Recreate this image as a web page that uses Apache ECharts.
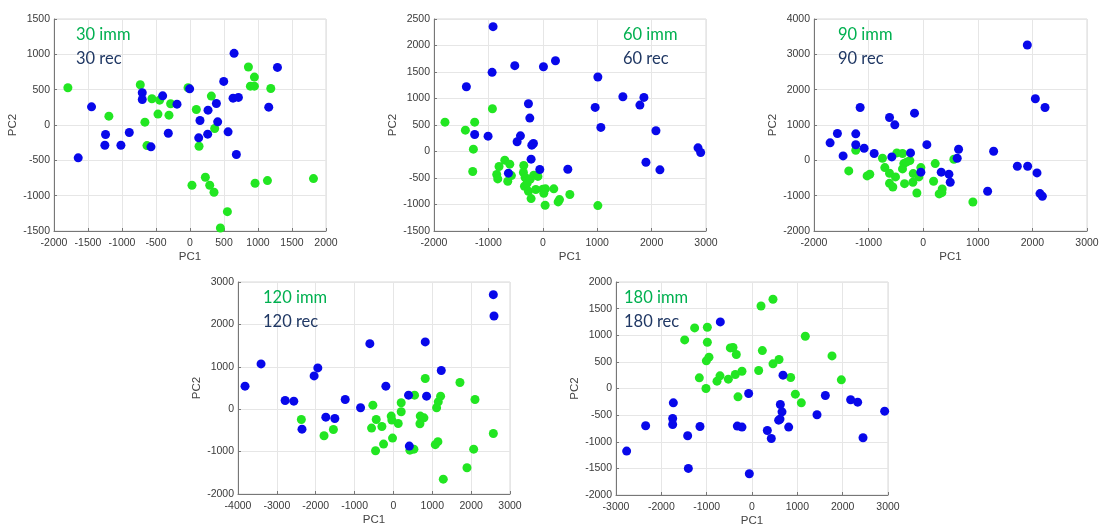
<!DOCTYPE html>
<html><head><meta charset="utf-8">
<script src="https://cdn.jsdelivr.net/npm/echarts@6/dist/echarts.min.js"></script>
<style>html,body{margin:0;padding:0;background:#fff}#c{width:1099px;height:524px}</style>
</head><body><div id="c"></div>
<script>
// ---- data (PC1, PC2) ----
const imm30 = [[-1796,527],[-1193,125],[-731,569],[-560,371],[-447,352],[-471,154],[-663,40],[-633,-291],[-285,300],[-309,139],[-29,527],[93,220],[314,409],[363,-50],[133,-300],[29,-853],[226,-740],[290,-853],[353,-952],[550,-1226],[447,-1458],[859,820],[947,678],[888,550],[947,550],[1188,517],[957,-825],[1139,-787],[1816,-758]];
const rec30 = [[-1644,-465],[-1448,257],[-1242,-135],[-1252,-286],[-1016,-286],[-893,-106],[-702,456],[-702,361],[-574,-309],[-402,413],[-319,-116],[-191,295],[-5,512],[147,64],[128,-182],[265,210],[260,-130],[388,305],[407,45],[560,-97],[496,617],[648,1014],[633,380],[712,390],[682,-418],[1158,252],[1286,815]];

const imm60 = [[-1798,554],[-1423,403],[-1252,554],[-926,806],[-1276,44],[-1288,-378],[-804,-283],[-699,-164],[-607,-239],[-847,-435],[-828,-517],[-577,-454],[-644,-561],[-350,-265],[-356,-397],[-325,-491],[-337,-655],[-288,-598],[-264,-750],[-215,-888],[-166,-447],[-90,-470],[-129,-718],[-230,-520],[0,-710],[49,-705],[18,-787],[43,-1014],[202,-705],[282,-951],[307,-907],[497,-812],[1012,-1020]];
const rec60 = [[-914,2356],[-932,1493],[-515,1619],[12,1600],[233,1713],[1012,1405],[-1405,1222],[1472,1033],[1859,1020],[1785,876],[963,832],[-264,901],[-239,630],[1067,454],[2080,391],[-1252,321],[-1006,290],[-411,296],[-472,183],[-172,151],[-202,120],[-215,-145],[-55,-340],[460,-334],[-632,-409],[1896,-202],[2153,-346],[2853,69],[2902,-19]];

const imm90 = [[-1235,286],[-1363,-300],[-1027,-441],[-978,-394],[-746,60],[-703,-205],[-617,-365],[-507,-469],[-617,-652],[-556,-756],[-483,210],[-379,192],[-355,-92],[-379,-243],[-342,-660],[-299,-45],[-244,-7],[-183,-376],[-189,-621],[-116,-924],[-79,-469],[-43,-205],[220,-92],[190,-593],[348,-810],[342,-914],[293,-951],[562,31],[910,-1179]];
const rec90 = [[1907,3263],[2054,1743],[2231,1495],[-1155,1495],[-159,1336],[-617,1213],[-520,1005],[-1571,759],[-1705,495],[-1235,750],[-1235,440],[-1082,343],[-1467,126],[-898,192],[-575,97],[-232,210],[67,444],[648,315],[623,60],[1290,258],[-43,-335],[330,-335],[471,-392],[495,-619],[1180,-874],[1724,-166],[1913,-166],[2084,-355],[2139,-941],[2182,-1017]];

const imm120 = [[-2370,-242],[-1786,-627],[-1545,-478],[-529,96],[-443,-242],[-563,-446],[-297,-407],[-460,-980],[-254,-823],[-57,-163],[-40,-257],[-23,-681],[123,-336],[200,151],[200,-61],[544,331],[424,-966],[527,-943],[819,724],[690,-163],[785,-203],[682,-344],[1214,308],[1154,174],[1111,33],[1077,-837],[1145,-766],[1283,-1650],[1712,630],[2099,229],[2571,-572],[2065,-943],[1893,-1382]];
const rec120 = [[2571,2702],[2588,2199],[-607,1546],[819,1587],[1231,912],[-3407,1068],[-1946,974],[-2041,785],[-3819,543],[-195,543],[-2787,205],[-2564,190],[-1241,228],[-846,33],[389,331],[853,308],[-1740,-187],[-1508,-219],[-2353,-470],[409,-870]];

const imm180 = [[463,1675],[199,1550],[-1265,1138],[-985,1150],[-1485,912],[-985,869],[1176,981],[-478,762],[-419,769],[-346,638],[228,712],[-949,588],[-1007,519],[463,463],[596,544],[1765,612],[-1162,200],[-706,238],[-772,138],[-522,175],[-368,263],[-221,325],[147,337],[853,206],[1971,163],[-1015,0],[-309,-156],[956,-106],[1088,-269]];
const rec180 = [[-699,1250],[684,250],[-74,-94],[625,-300],[662,-438],[618,-575],[588,-594],[1618,-131],[2176,-212],[2331,-256],[2926,-425],[1434,-494],[809,-725],[338,-788],[426,-938],[2449,-925],[-324,-706],[-221,-725],[-1735,-269],[-1750,-563],[-1750,-675],[-1147,-713],[-2346,-700],[-1419,-888],[-2765,-1175],[-1404,-1500],[-59,-1600]];

const immLabels = ['30 imm','60 imm','90 imm','120 imm','180 imm'];
const recLabels = ['30 rec','60 rec','90 rec','120 rec','180 rec'];
const xRanges = [[-2000,2000,500],[-2000,3000,1000],[-2000,3000,1000],[-4000,3000,1000],[-3000,3000,1000]];
const yRanges = [[-1500,1500,500],[-1500,2500,500],[-2000,4000,1000],[-2000,3000,1000],[-2000,2000,500]];
const immSets = [imm30, imm60, imm90, imm120, imm180];
const recSets = [rec30, rec60, rec90, rec120, rec180];

// ---- layout ----
const boxes = [[54,19,272,212],[434,19,272,212],[814,19,273,212],[238,282,272,212],[616,282,272,213]];
const textPos = [[76,26],[623,26],[838,26],[263,289],[624,289]];

const GREEN = '#22e622', BLUE = '#0808ea';
const tickFont = {fontFamily:'Liberation Sans, Arial, sans-serif', fontSize:10.5, color:'#3a3a3a'};
const fmt = v => String(v);
const grids=[], xAxes=[], yAxes=[], series=[], graphics=[];
boxes.forEach((b,i)=>{
  grids.push({left:b[0], top:b[1], width:b[2], height:b[3], show:true, borderColor:'#d9d9d9', borderWidth:1, backgroundColor:'#fff', containLabel:false, outerBoundsMode:'none'});
  xAxes.push({gridIndex:i, type:'value', min:xRanges[i][0], max:xRanges[i][1], interval:xRanges[i][2],
    name:'PC1', nameLocation:'middle', nameGap:20, nameTextStyle:{fontFamily:'Liberation Sans, Arial, sans-serif', fontSize:11.5, color:'#444'},
    axisLine:{show:true, onZero:false, lineStyle:{color:'#777', width:1}},
    axisTick:{show:true, inside:true, length:3, lineStyle:{color:'#777'}},
    axisLabel:Object.assign({margin:7, showMinLabel:true, showMaxLabel:true, formatter:fmt}, tickFont),
    splitLine:{show:true, lineStyle:{color:'#e6e6e6', width:1}}});
  yAxes.push({gridIndex:i, type:'value', min:yRanges[i][0], max:yRanges[i][1], interval:yRanges[i][2],
    name:'PC2', nameLocation:'middle', nameGap:32, nameRotate:90, nameTextStyle:{fontFamily:'Liberation Sans, Arial, sans-serif', fontSize:11.5, color:'#444'},
    axisLine:{show:true, onZero:false, lineStyle:{color:'#777', width:1}},
    axisTick:{show:true, inside:true, length:3, lineStyle:{color:'#777'}},
    axisLabel:Object.assign({margin:4, showMinLabel:true, showMaxLabel:true, formatter:fmt}, tickFont),
    splitLine:{show:true, lineStyle:{color:'#e6e6e6', width:1}}});
  series.push({type:'scatter', xAxisIndex:i, yAxisIndex:i, data:immSets[i], symbolSize:9, itemStyle:{color:GREEN, opacity:1}, silent:true});
  series.push({type:'scatter', xAxisIndex:i, yAxisIndex:i, data:recSets[i], symbolSize:9, itemStyle:{color:BLUE, opacity:1}, silent:true});
  const t = textPos[i];
  graphics.push({type:'text', left:t[0], top:t[1], z:100, style:{text:immLabels[i], fill:'#00b050', font:'16.5px Lato, "Open Sans", sans-serif'}});
  graphics.push({type:'text', left:t[0], top:t[1]+24, z:100, style:{text:recLabels[i], fill:'#203864', font:'16.5px Lato, "Open Sans", sans-serif'}});
});

const chart = echarts.init(document.getElementById('c'), null, {renderer:'canvas'});
chart.setOption({animation:false, backgroundColor:'#fff', grid:grids, xAxis:xAxes, yAxis:yAxes, series:series, graphic:graphics});
</script></body></html>
